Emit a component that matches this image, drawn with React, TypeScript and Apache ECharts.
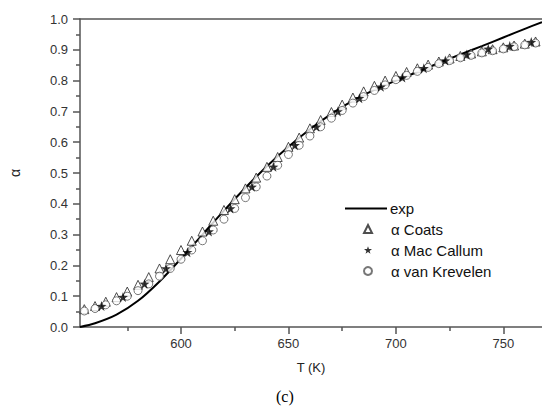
import React, { useEffect, useRef } from "react";
import * as echarts from "echarts";

const expT = [553, 560, 570, 580, 590, 600, 610, 620, 630, 640, 650, 660, 670, 680, 690, 700, 710, 720, 730, 740, 750, 760, 768];
const expA = [0.0, 0.012, 0.04, 0.085, 0.148, 0.222, 0.3, 0.378, 0.452, 0.522, 0.585, 0.642, 0.692, 0.735, 0.77, 0.8, 0.828, 0.857, 0.885, 0.912, 0.94, 0.968, 0.99];

const coatsT = [555, 560, 565, 570, 575, 580, 585, 590, 595, 600, 605, 610, 615, 620, 625, 630, 635, 640, 645, 650, 655, 660, 665, 670, 675, 680, 685, 690, 695, 700, 705, 710, 715, 720, 725, 730, 735, 740, 745, 750, 755, 760, 765];
const coatsA = [0.058, 0.068, 0.082, 0.097, 0.115, 0.137, 0.162, 0.19, 0.22, 0.25, 0.28, 0.31, 0.345, 0.38, 0.415, 0.45, 0.485, 0.52, 0.552, 0.585, 0.615, 0.645, 0.672, 0.698, 0.722, 0.745, 0.765, 0.783, 0.8, 0.815, 0.828, 0.84, 0.852, 0.862, 0.872, 0.88, 0.888, 0.895, 0.902, 0.908, 0.914, 0.92, 0.927];

const macT = [563, 573, 583, 593, 603, 613, 623, 633, 643, 653, 663, 673, 683, 693, 703, 713, 723, 733, 743, 753, 763];
const macA = [0.068, 0.097, 0.14, 0.19, 0.243, 0.31, 0.385, 0.455, 0.52, 0.59, 0.65, 0.7, 0.743, 0.78, 0.81, 0.84, 0.865, 0.885, 0.903, 0.912, 0.925];

const vkT = coatsT;
const vkA = [0.052, 0.06, 0.072, 0.085, 0.1, 0.118, 0.14, 0.165, 0.19, 0.22, 0.25, 0.28, 0.315, 0.35, 0.385, 0.42, 0.455, 0.49, 0.525, 0.56, 0.59, 0.62, 0.65, 0.678, 0.703, 0.727, 0.748, 0.768, 0.786, 0.803, 0.817, 0.83, 0.843, 0.855, 0.865, 0.874, 0.882, 0.89, 0.897, 0.903, 0.91, 0.916, 0.922];

const xMajor = [600, 650, 700, 750];
const xMinor = [575, 625, 675, 725];

const seriesNames = ["exp", "\u03b1 Coats", "\u03b1 Mac Callum", "\u03b1 van Krevelen"];

const STAR = "path://M0,-10 L2.35,-3.24 L9.51,-3.09 L3.8,1.24 L5.88,8.09 L0,4 L-5.88,8.09 L-3.8,1.24 L-9.51,-3.09 L-2.35,-3.24 Z";

const zip = (xs: number[], ys: number[]) => xs.map((x, i) => [x, ys[i]]);

export default function App() {
  const ref = useRef<HTMLDivElement>(null);
  useEffect(() => {
    if (!ref.current) return;
    const chart = echarts.init(ref.current, null, { renderer: "svg" });
    const font = "Liberation Sans";
    const axisColor = "#555";
    chart.setOption({
      animation: false,
      backgroundColor: "#fff",
      grid: { left: 79, top: 19, right: 0, bottom: 83 },
      xAxis: [
        {
          type: "value",
          min: 553,
          max: 768,
          position: "bottom",
          axisLine: { show: true, onZero: false, lineStyle: { color: axisColor, width: 1.5 } },
          axisTick: { show: true, inside: false, length: 7, customValues: xMajor, lineStyle: { color: axisColor, width: 1.5 } },
          axisLabel: { show: true, customValues: xMajor, margin: 10, fontFamily: font, fontSize: 13, color: "#333" },
          splitLine: { show: false },
          name: "T (K)",
          nameLocation: "middle",
          nameGap: 34,
          nameTextStyle: { fontFamily: font, fontSize: 13, color: "#222" },
        },
        {
          type: "value",
          min: 553,
          max: 768,
          position: "bottom",
          axisLine: { show: false, onZero: false },
          axisTick: { show: true, inside: false, length: 4, customValues: xMinor, lineStyle: { color: axisColor, width: 1.5 } },
          axisLabel: { show: false },
          splitLine: { show: false },
        },
        {
          type: "value",
          min: 553,
          max: 768,
          position: "top",
          axisLine: { show: true, onZero: false, lineStyle: { color: axisColor, width: 1.5 } },
          axisTick: { show: false },
          axisLabel: { show: false },
          splitLine: { show: false },
        },
      ],
      yAxis: {
        type: "value",
        min: 0,
        max: 1,
        interval: 0.1,
        axisLine: { show: true, onZero: false, lineStyle: { color: axisColor, width: 1.5 } },
        axisTick: { show: true, inside: false, length: 7, lineStyle: { color: axisColor, width: 1.5 } },
        minorTick: { show: true, splitNumber: 2, length: 4, lineStyle: { color: axisColor, width: 1.5 } },
        axisLabel: { margin: 12, fontFamily: font, fontSize: 13, color: "#333", formatter: (v: number) => v.toFixed(1) },
        splitLine: { show: false },
        name: "\u03b1",
        nameLocation: "middle",
        nameGap: 58,
        nameRotate: 90,
        nameTextStyle: { fontFamily: font, fontSize: 14, color: "#222" },
      },
      legend: [
        {
          data: [{ name: seriesNames[0], icon: "rect" }],
          left: 340,
          top: 196,
          itemWidth: 42,
          itemHeight: 2,
          textStyle: { fontFamily: font, fontSize: 15, color: "#111", padding: [0, 0, 0, -2] },
        },
        {
          data: seriesNames.slice(1),
          orient: "vertical",
          left: 358,
          top: 216,
          itemWidth: 8,
          itemHeight: 8,
          itemGap: 5,
          textStyle: { fontFamily: font, fontSize: 15, lineHeight: 16, color: "#111", padding: [0, 0, 0, 14] },
        },
      ],
      graphic: [
        {
          type: "text",
          left: 276,
          top: 388,
          style: { text: "(c)", font: "16px 'Liberation Serif', 'Times New Roman', serif", fill: "#000" },
        },
      ],
      series: [
        {
          name: seriesNames[0],
          type: "line",
          data: zip(expT, expA),
          smooth: 0.3,
          showSymbol: false,
          symbol: "none",
          lineStyle: { color: "#000", width: 2 },
          itemStyle: { color: "#000" },
          z: 3,
        },
        {
          name: seriesNames[1],
          type: "scatter",
          data: zip(coatsT, coatsA),
          symbol: "triangle",
          symbolSize: 9,
          itemStyle: { color: "#fff", borderColor: "#222", borderWidth: 1 },
          z: 4,
        },
        {
          name: seriesNames[2],
          type: "scatter",
          data: zip(macT, macA),
          symbol: STAR,
          symbolSize: 10,
          itemStyle: { color: "#000", borderColor: "#000", borderWidth: 0 },
          z: 5,
        },
        {
          name: seriesNames[3],
          type: "scatter",
          data: zip(vkT, vkA),
          symbol: "circle",
          symbolSize: 8,
          itemStyle: { color: "#fff", borderColor: "#555", borderWidth: 1 },
          z: 4,
        },
      ],
    });
    return () => chart.dispose();
  }, []);
  return <div ref={ref} style={{ width: 542, height: 410, position: "absolute", left: 0, top: 0 }} />;
}
